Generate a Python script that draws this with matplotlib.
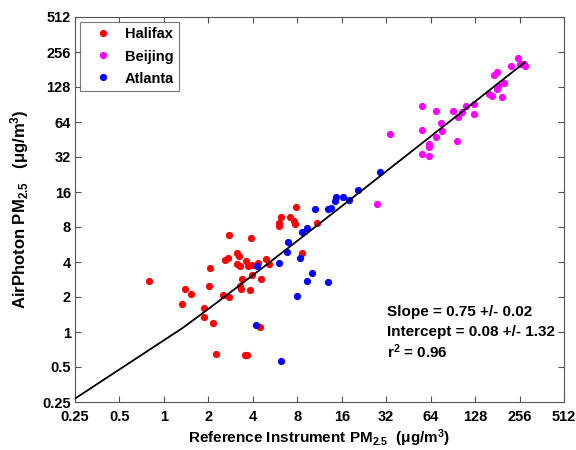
import matplotlib
matplotlib.use("Agg")
import matplotlib.pyplot as plt
import numpy as np

plt.rcParams['font.family'] = ['Liberation Sans', 'DejaVu Sans']
plt.rcParams['mathtext.fontset'] = 'custom'
plt.rcParams['mathtext.rm'] = 'Liberation Sans:bold'
plt.rcParams['mathtext.it'] = 'Liberation Sans:bold'
plt.rcParams['mathtext.bf'] = 'Liberation Sans:bold'

# ---- data ----
halifax_x = [0.796, 1.387, 1.523, 1.323, 1.865, 1.865, 2.145, 2.248, 2.048, 2.025,
             2.507, 2.78, 2.78, 2.586, 2.72, 3.15, 3.20, 3.15, 3.27, 3.57,
             3.70, 3.88, 3.96, 4.32, 3.96, 3.39, 3.27, 3.32, 3.83, 4.53,
             4.92, 5.11, 3.55, 3.68, 4.48, 5.97, 6.06, 6.22, 7.12, 7.66,
             7.70, 7.81, 8.58, 10.92]
halifax_y = [2.74, 2.34, 2.105, 1.753, 1.620, 1.346, 1.197, 0.650, 3.53, 2.48,
             2.076, 1.996, 6.86, 4.19, 4.33, 4.81, 4.47, 3.88, 3.70, 4.06,
             3.70, 6.43, 3.80, 3.90, 3.12, 2.85, 2.48, 2.34, 2.32, 2.88,
             4.25, 3.88, 0.629, 0.633, 1.099, 8.64, 8.08, 9.72, 9.84, 9.09,
             8.52, 11.98, 4.79, 8.64]

beijing_x = [27.9, 34.2, 55.6, 55.6, 55.6, 62.3, 62.3, 62.3, 69.5, 69.5,
             75.6, 76.8, 90.4, 97.5, 103.8, 97.2, 110.7, 125.0, 125.0, 159.2,
             166.8, 171.5, 180.9, 180.9, 184.0, 194.0, 200.5, 223.5, 249.0, 256.7,
             275.9, 277.6]
beijing_y = [12.63, 50.4, 87.0, 55.0, 34.0, 41.8, 39.0, 32.6, 79.3, 47.5,
             62.9, 54.0, 79.6, 70.8, 77.6, 43.7, 88.2, 91.4, 75.1, 112.4,
             106.6, 161.1, 171.0, 122.4, 129.8, 104.5, 137.4, 192.4, 228.3, 201.7,
             201.7, 192.4]

atlanta_x = [4.24, 4.22, 5.97, 6.25, 6.79, 6.93, 7.94, 8.38, 8.58, 9.35,
             9.32, 10.11, 10.48, 12.91, 12.86, 13.63, 14.57, 14.46, 16.38, 17.79,
             20.75, 29.28]
atlanta_y = [3.68, 1.150, 3.95, 0.563, 4.91, 5.98, 2.06, 4.36, 7.18, 7.92,
             2.76, 3.20, 11.34, 2.70, 11.34, 11.67, 14.36, 13.40, 14.44, 13.75,
             16.70, 23.87]

slope = 0.75
intercept = 0.08
fit_start = 0.25

tick_vals = [0.25, 0.5, 1, 2, 4, 8, 16, 32, 64, 128, 256, 512]
tick_labels = ['0.25', '0.5', '1', '2', '4', '8', '16', '32', '64', '128', '256', '512']

stats_lines = ["Slope = 0.75 +/- 0.02", "Intercept = 0.08 +/- 1.32", "r$^2$ = 0.96"]

# ---- figure ----
fig = plt.figure(figsize=(5.76, 4.5), dpi=100)
ax = fig.add_axes([75/576, 1-402/450, (564-75)/576, (402-17)/450])

ms = 5.2
ax.plot(halifax_x, halifax_y, 'o', color='#ff0000', ms=ms, mec='none', label='Halifax', zorder=3)
ax.plot(beijing_x, beijing_y, 'o', color='#ff00ff', ms=ms, mec='none', label='Beijing', zorder=3)
ax.plot(atlanta_x, atlanta_y, 'o', color='#0000ff', ms=ms, mec='none', label='Atlanta', zorder=3)

all_x = np.array(halifax_x + beijing_x + atlanta_x)
fit_x = np.concatenate([[fit_start], np.sort(all_x[all_x > 1.3])])
fit_y = slope * fit_x + intercept
ax.plot(fit_x, fit_y, '-', color='black', lw=1.3, zorder=4)

ax.set_xscale('log', base=2)
ax.set_yscale('log', base=2)
ax.set_xlim(0.25, 512)
ax.set_ylim(0.25, 512)
ax.set_xticks(tick_vals)
ax.set_xticklabels(tick_labels)
ax.set_yticks(tick_vals)
ax.set_yticklabels(tick_labels)
ax.minorticks_off()
ax.tick_params(which='major', direction='in', length=4.5, width=0.8, color='#555555',
               top=True, right=True, labelsize=10.5)
ax.tick_params(axis='x', pad=6)
ax.tick_params(axis='y', pad=3)
for lab in ax.get_xticklabels() + ax.get_yticklabels():
    lab.set_fontweight('bold')
for s in ax.spines.values():
    s.set_color('#555555')
    s.set_linewidth(0.8)

ax.set_xlabel(r'Reference Instrument PM$_{2.5}$  ($\mathregular{\mu}$g/m$^3$)',
              fontsize=11, fontweight='bold', labelpad=2)
ax.set_ylabel(r'AirPhoton PM$_{2.5}$   ($\mathregular{\mu}$g/m$^3$)',
              fontsize=12, fontweight='bold', labelpad=8)

leg = ax.legend(loc='upper left', bbox_to_anchor=(0.011, 0.986), borderaxespad=0,
                frameon=True, fancybox=False,
                edgecolor='#555555', prop={'weight': 'bold', 'size': 10.5},
                handletextpad=0.3, borderpad=0.35, labelspacing=0.55, handlelength=2.4,
                markerscale=1.0)
leg.get_frame().set_linewidth(0.8)

for txt, yy in zip(stats_lines, [0.2244, 0.1706, 0.1153]):
    ax.text(0.638, yy, txt, transform=ax.transAxes, fontsize=11, fontweight='bold',
            va='baseline', ha='left')

fig.savefig('out.png', dpi=100)
